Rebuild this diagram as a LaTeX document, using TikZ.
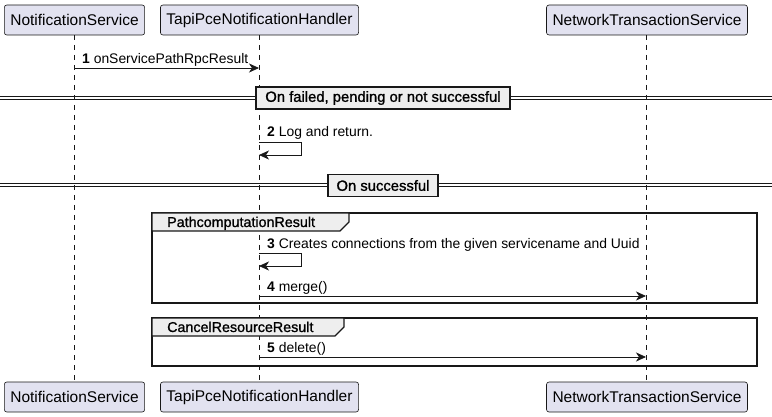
\documentclass[tikz,border=0pt]{standalone}
\usepackage{fontspec}
\setmainfont{Liberation Sans}
\newfontfamily\semib[FakeBold=1.2]{Liberation Sans}
\usetikzlibrary{arrows.meta}
\definecolor{partfill}{HTML}{E2E2F0}
\definecolor{linec}{HTML}{181818}
\definecolor{grayfill}{HTML}{EEEEEE}
\tikzset{
  part/.style={draw=linec, fill=partfill, rounded corners=2.5pt, line width=0.6pt, minimum height=30pt, inner xsep=6pt, font=\fontsize{15.5}{17}\selectfont, anchor=center},
  lifeline/.style={draw=linec, dash pattern=on 5pt off 5pt, line width=0.5pt},
  msg/.style={draw=linec, line width=0.8pt, -{Stealth[length=10pt,width=9pt,inset=3pt]}},
  msglabel/.style={font=\fontsize{13.9}{16}\selectfont, anchor=base west, inner sep=0pt},
  divbox/.style={draw=linec, fill=grayfill, line width=1.2pt, inner xsep=3pt, minimum height=22pt, font=\semib\fontsize{14.8}{16}\selectfont},
  dline/.style={draw=linec, line width=1pt},
  grp/.style={draw=linec, line width=1.3pt},
  grplabel/.style={font=\semib\fontsize{14.3}{16}\selectfont, anchor=base west, inner sep=0pt}
}
\begin{document}
\begin{tikzpicture}[x=1pt,y=-1pt]
\useasboundingbox (0,0) rectangle (772,417);
% lifelines
\coordinate (l1t) at (74,35); \coordinate (l1b) at (74,382);
\coordinate (l2t) at (259,35); \coordinate (l2b) at (259,382);
\coordinate (l3t) at (646,35); \coordinate (l3b) at (646,382);
\draw[lifeline] (l1t) -- (l1b);
\draw[lifeline] (l2t) -- (l2b);
\draw[lifeline] (l3t) -- (l3b);
% participants
\node[part, minimum width=139pt] (ns) at (74.5,20) {NotificationService};
\node[part, minimum width=195pt] (th) at (259.5,20) {TapiPceNotificationHandler};
\node[part, minimum width=198pt] (nt) at (647,20) {NetworkTransactionService};
\node[part, minimum width=139pt] (ns2) at (74.5,397) {NotificationService};
\node[part, minimum width=195pt] (th2) at (259.5,397) {TapiPceNotificationHandler};
\node[part, minimum width=198pt] (nt2) at (647,397) {NetworkTransactionService};
% message 1
\coordinate (m1a) at (74,68); \coordinate (m1b) at (259,68);
\draw[msg] (m1a) -- (m1b);
\node[msglabel] (t1) at (82,64) {\textbf{1} onServicePathRpcResult};
% divider 1
\coordinate (d1l) at (0,96.5); \coordinate (d1r) at (772,96.5);
\coordinate (d1l2) at (0,100); \coordinate (d1r2) at (772,100);
\draw[dline] (d1l) -- (d1r);
\draw[dline] (d1l2) -- (d1r2);
\node[divbox, minimum width=254pt] (dv1) at (383,98) {On failed, pending or not successful};
% message 2
\coordinate (m2a) at (259,142); \coordinate (m2c) at (259,155);
\node[msglabel] (t2) at (267,137) {\textbf{2} Log and return.};
\draw[msg] (m2a) -- (301,142) -- (301,155) -- (m2c);
% divider 2
\coordinate (d2l) at (0,183.5); \coordinate (d2r) at (772,183.5);
\coordinate (d2l2) at (0,187); \coordinate (d2r2) at (772,187);
\draw[dline] (d2l) -- (d2r);
\draw[dline] (d2l2) -- (d2r2);
\node[divbox, minimum width=110pt] (dv2) at (383,185.5) {On successful};
% group 1
\coordinate (g1a) at (152,213); \coordinate (g1b) at (757,303);
\draw[grp] (g1a) rectangle (g1b);
\filldraw[grp, fill=grayfill] (152,213) -- (349,213) -- (349,222) -- (340,231) -- (152,231) -- cycle;
\node[grplabel] (gl1) at (167,227) {PathcomputationResult};
\node[msglabel] (t3) at (267,248) {\textbf{3} Creates connections from the given servicename and Uuid};
\coordinate (m3a) at (259,253); \coordinate (m3c) at (259,266);
\draw[msg] (m3a) -- (301,253) -- (301,266) -- (m3c);
\node[msglabel] (t4) at (267,291) {\textbf{4} merge()};
\coordinate (m4a) at (259,296); \coordinate (m4b) at (646,296);
\draw[msg] (m4a) -- (m4b);
% group 2
\coordinate (g2a) at (152,318); \coordinate (g2b) at (757,366);
\draw[grp] (g2a) rectangle (g2b);
\filldraw[grp, fill=grayfill] (152,318) -- (344,318) -- (344,327) -- (335,336) -- (152,336) -- cycle;
\node[grplabel] (gl2) at (167,332) {CancelResourceResult};
\node[msglabel] (t5) at (267,352) {\textbf{5} delete()};
\coordinate (m5a) at (259,357); \coordinate (m5b) at (646,357);
\draw[msg] (m5a) -- (m5b);
\end{tikzpicture}
\end{document}
